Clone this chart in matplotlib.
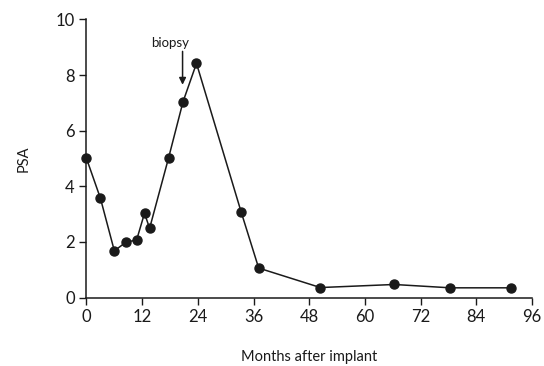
import matplotlib
matplotlib.use("Agg")
import matplotlib.pyplot as plt

# data
months = [0, 3, 6, 8.5, 10.8, 12.5, 13.6, 17.7, 20.8, 23.7, 33.3, 37.1, 50.4, 66.3, 78.4, 91.4]
psa = [5.0, 3.57, 1.68, 1.99, 2.07, 3.03, 2.49, 5.03, 7.04, 8.42, 3.09, 1.06, 0.36, 0.47, 0.35, 0.35]
xticks = [0, 12, 24, 36, 48, 60, 72, 84, 96]
yticks = [0, 2, 4, 6, 8, 10]
biopsy_month = 20.7

plt.rcParams['font.family'] = ['Lato', 'DejaVu Sans']
ink = '#1a1a1a'

fig = plt.figure(figsize=(5.44, 3.66), dpi=100)
ax = fig.add_axes([0.159, 0.187, 0.819, 0.760])

ax.plot(months, psa, color=ink, lw=1.1, marker='o', ms=6.5, mfc=ink, mec=ink, clip_on=False)

# biopsy arrow
ax.annotate('', xy=(biopsy_month, 7.55), xytext=(biopsy_month, 8.95),
            arrowprops=dict(arrowstyle='-|>', color=ink, lw=1.1, mutation_scale=10))
ax.text(18, 9.15, 'biopsy', ha='center', va='center', fontsize=9.5, color=ink)

# axes
ax.set_xlim(0, 96)
ax.set_ylim(0, 10)
ax.set_xticks(xticks)
ax.set_yticks(yticks)
ax.tick_params(labelsize=12, colors=ink, length=5, width=1, direction='out')
for side in ['top', 'right']:
    ax.spines[side].set_visible(False)
for side in ['left', 'bottom']:
    ax.spines[side].set_color(ink)
    ax.spines[side].set_linewidth(1.1)

ax.set_xlabel('Months after implant', fontsize=10.5, color=ink, labelpad=18)
ax.set_ylabel('PSA', fontsize=10.5, color=ink, labelpad=18)

fig.savefig('out.png', dpi=100)
